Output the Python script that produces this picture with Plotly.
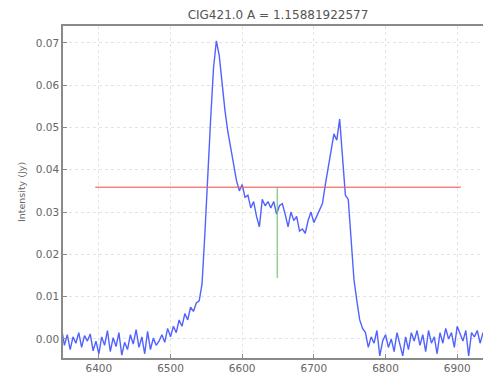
import plotly.graph_objects as go

# Velocity channel grid (km/s)
v_start = 6348
v_step = 4

# Flux density per channel (mJy)
flux_mjy = [
    2.5, -1.5, 1.0, -2.5, 0.5, -1.0, 1.5, -2.0, 0.8, -0.5,
    1.2, -2.8, -0.5, -3.5, 0.5, -1.5, 2.0, -3.0, 0.3, -1.8,
    1.5, -3.8, -0.8, -2.5, 1.0, -1.2, 2.2, -2.0, 0.5, -3.5,
    1.8, -2.5, 0.2, -1.5, -0.5, 1.0, -0.8, 2.5, 0.5, 3.0,
    1.5, 4.5, 3.0, 6.0, 4.5, 7.5, 6.5, 8.5, 9.0, 13.0,
    25.0, 40.0, 52.0, 64.0, 70.5, 67.0, 60.0, 54.0, 49.0, 45.0,
    41.0, 37.5, 35.0, 36.5, 33.5, 34.0, 31.0, 32.5, 29.0, 26.5,
    33.0, 31.5, 32.5, 31.0, 32.5, 29.5, 31.5, 32.0, 29.5, 26.5,
    30.0, 28.0, 29.0, 25.5, 26.0, 25.0, 28.0, 30.0, 27.5, 29.0,
    30.5, 32.0, 36.5, 40.5, 45.0, 48.5, 47.0, 52.0, 43.0, 34.0,
    33.0, 24.0, 14.0, 9.0, 4.5, 2.5, 1.5, -2.0, 0.5, -1.0,
    2.0, -4.0, -0.5, 1.0, -2.0, 0.0, -3.0, 1.5, -1.5, -4.0,
    0.5, -2.5, 1.5, -0.5, 2.0, -1.5, 1.0, -3.0, 2.0, -1.0,
    0.5, -3.5, 1.5, -1.0, 2.5, 0.0, 1.5, -2.0, 3.0, 1.0,
    -0.5, 2.0, -4.0, 1.5, 0.5, 2.0, -1.0, 1.5,
]

velocity = [v_start + v_step * i for i in range(len(flux_mjy))]
flux = [f / 1000.0 for f in flux_mjy]

# Reference level (red) and centre marker (green)
level_x = [6395, 6905]
level_y = [0.0359, 0.0359]
centre_x = [6649, 6649]
centre_y = [0.0144, 0.0359]

title_text = "CIG421.0 A = 1.15881922577"
x_ticks = [6400, 6500, 6600, 6700, 6800, 6900]
y_ticks = [0.00, 0.01, 0.02, 0.03, 0.04, 0.05, 0.06, 0.07]

fig = go.Figure()
fig.add_trace(go.Scatter(x=velocity, y=flux, mode="lines",
                         line=dict(color="rgba(50,70,255,0.85)", width=1.4),
                         showlegend=False))
fig.add_trace(go.Scatter(x=level_x, y=level_y, mode="lines",
                         line=dict(color="rgba(240,100,100,0.8)", width=1.5),
                         showlegend=False))
fig.add_trace(go.Scatter(x=centre_x, y=centre_y, mode="lines",
                         line=dict(color="rgba(120,195,120,0.8)", width=1.5),
                         showlegend=False))

axis_common = dict(
    showline=True, mirror=True, linecolor="#8a8a8a", linewidth=1.5,
    ticks="inside", ticklen=4, tickcolor="#8a8a8a",
    showgrid=True, gridcolor="#e4e4e4", griddash="dot", gridwidth=1,
    zeroline=False, automargin=False,
    tickfont=dict(family="DejaVu Sans", size=10.5, color="#666"),
)

fig.update_layout(
    width=483, height=376,
    margin=dict(l=63, r=0, t=26, b=18),
    paper_bgcolor="white", plot_bgcolor="white",
    title=dict(text=title_text, x=278 / 483, xanchor="center",
               y=1 - 15 / 376, yanchor="middle", xref="container", yref="container",
               font=dict(family="DejaVu Sans", size=12, color="#555")),
    xaxis=dict(range=[6350, 6936], tickvals=x_ticks,
               ticktext=[str(t) for t in x_ticks], **axis_common),
    yaxis=dict(range=[-0.0045, 0.0740], tickvals=y_ticks,
               ticktext=["%.2f" % t for t in y_ticks],
               title=dict(text="Intensity (Jy)", standoff=8,
                          font=dict(family="DejaVu Sans", size=9.5, color="#666")),
               **axis_common),
)

fig.write_html("out.html", config={"displayModeBar": False},
               post_script="document.body.style.margin='0';")
